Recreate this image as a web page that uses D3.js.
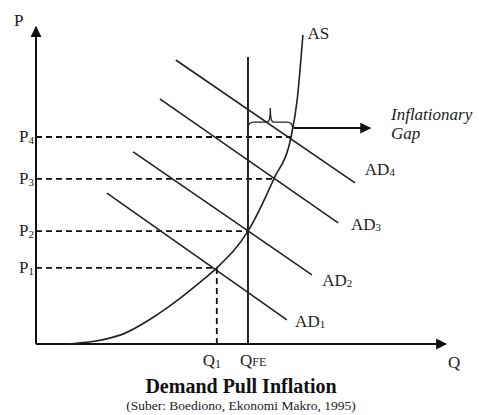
<!DOCTYPE html>
<html>
<head>
<meta charset="utf-8">
<script src="https://cdn.jsdelivr.net/npm/d3@7"></script>
<style>
  body { margin: 0; background: #fff; }
</style>
</head>
<body>
<div id="chart"></div>
<script>
const width = 479;
const height = 415;

// data in chart units (0..100 on both axes)
const priceLabels = ["P1", "P2", "P3", "P4"];
const priceLevels = [24.0, 35.6, 52.1, 65.3];
const priceQty = [44.1, 51.7, 58.0, 62.2];   // where each price meets AS

const qtyLabels = ["Q1", "QFE"];
const qtyValues = [44.1, 51.7];

const asCurve = [[7.8, 0], [20.5, 2.8], [30.2, 9.8], [40.7, 20.2], [44.1, 24.0],
  [51.7, 35.6], [58.0, 52.1], [62.2, 65.3], [63.7, 77.0], [65.1, 97.5]];

const adNames = ["AD1", "AD2", "AD3", "AD4"];
const adStart = [[17.3, 47.6], [23.7, 60.6], [30.2, 77.3], [34.1, 89.6]];
const adEnd = [[61.2, 7.6], [67.3, 21.8], [73.7, 38.2], [77.8, 50.8]];
const adLabelPos = [[63.2, 5.4], [69.8, 18.3], [76.8, 36.0], [80.2, 53.3]];

const qfeTop = 90.5;
const gapFrom = 51.7, gapTo = 62.6, gapLevel = 68.1, gapArrowEnd = 81.5;

const serif = "'Liberation Serif', 'Times New Roman', Times, serif";

const svg = d3.select("#chart").append("svg")
  .attr("width", width)
  .attr("height", height)
  .attr("font-family", serif)
  .style("font-family", serif);

const x = d3.scaleLinear().domain([0, 100]).range([36, 446]);
const y = d3.scaleLinear().domain([0, 100]).range([344, 27]);

const defs = svg.append("defs");
defs.append("marker")
  .attr("id", "arrow")
  .attr("viewBox", "0 0 10 10")
  .attr("refX", 9).attr("refY", 5)
  .attr("markerWidth", 5.5).attr("markerHeight", 5.5)
  .attr("markerUnits", "strokeWidth")
  .attr("orient", "auto")
  .append("path")
  .attr("d", "M0,0 L10,5 L0,10 Z")
  .attr("fill", "#111");

// axes
svg.append("line")
  .attr("x1", x(0)).attr("y1", y(0))
  .attr("x2", x(0)).attr("y2", y(100))
  .attr("stroke", "#111").attr("stroke-width", 2)
  .attr("marker-end", "url(#arrow)");

svg.append("line")
  .attr("x1", x(0)).attr("y1", y(0))
  .attr("x2", x(100)).attr("y2", y(0))
  .attr("stroke", "#111").attr("stroke-width", 2)
  .attr("marker-end", "url(#arrow)");

svg.append("text").attr("x", x(0) - 22).attr("y", y(100) - 1)
  .attr("fill", "#222").style("font-size", "17px").text("P");
svg.append("text").attr("x", x(100) + 2).attr("y", y(0) + 24)
  .attr("fill", "#222").style("font-size", "17px").text("Q");

// dashed price lines
priceLevels.forEach((p, i) => {
  svg.append("line")
    .attr("x1", x(0)).attr("y1", y(p))
    .attr("x2", x(priceQty[i])).attr("y2", y(p))
    .attr("stroke", "#111").attr("stroke-width", 1.8)
    .attr("stroke-dasharray", "6,4");

  const t = svg.append("text")
    .attr("x", x(0) - 2).attr("y", y(p) + 5)
    .attr("text-anchor", "end")
    .attr("fill", "#222")
    .style("font-size", "17px");
  t.append("tspan").text(priceLabels[i][0]);
  t.append("tspan").style("font-size", "11px").attr("dy", 2).text(priceLabels[i].slice(1));
});

// Q1 dashed vertical
svg.append("line")
  .attr("x1", x(qtyValues[0])).attr("y1", y(priceLevels[0]))
  .attr("x2", x(qtyValues[0])).attr("y2", y(0))
  .attr("stroke", "#111").attr("stroke-width", 1.8)
  .attr("stroke-dasharray", "6,4");

// QFE full employment line
svg.append("line")
  .attr("x1", x(qtyValues[1])).attr("y1", y(qfeTop))
  .attr("x2", x(qtyValues[1])).attr("y2", y(0))
  .attr("stroke", "#222").attr("stroke-width", 2);

qtyLabels.forEach((q, i) => {
  const t = svg.append("text")
    .attr("x", x(qtyValues[i]) - (i === 0 ? 14 : 8)).attr("y", y(0) + 22)
    .attr("fill", "#222")
    .style("font-size", "17px");
  t.append("tspan").text(q[0]);
  t.append("tspan").style("font-size", "12px").attr("dy", i === 0 ? 2 : 0).text(q.slice(1));
});

// AD lines
adNames.forEach((name, i) => {
  svg.append("line")
    .attr("x1", x(adStart[i][0])).attr("y1", y(adStart[i][1]))
    .attr("x2", x(adEnd[i][0])).attr("y2", y(adEnd[i][1]))
    .attr("stroke", "#222").attr("stroke-width", 1.6);

  const t = svg.append("text")
    .attr("x", x(adLabelPos[i][0])).attr("y", y(adLabelPos[i][1]))
    .attr("fill", "#222")
    .style("font-size", "17px");
  t.append("tspan").text("AD");
  t.append("tspan").style("font-size", "11px").attr("dy", 1).text(name.slice(2));
});

// AS curve
svg.append("path")
  .datum(asCurve)
  .attr("d", d3.line().x(d => x(d[0])).y(d => y(d[1])).curve(d3.curveMonotoneX))
  .attr("fill", "none")
  .attr("stroke", "#222").attr("stroke-width", 1.6);

svg.append("text")
  .attr("x", x(66.2)).attr("y", y(96.2))
  .attr("fill", "#222")
  .style("font-size", "17px").text("AS");

// inflationary gap brace
const bx0 = x(gapFrom), bx1 = x(gapTo), by = y(gapLevel);
const bmid = (bx0 + bx1) / 2;
svg.append("path")
  .attr("d", `M${bx0},${by} Q${bx0},${by - 6} ${bx0 + 6},${by - 6} L${bmid - 3},${by - 6}
    Q${bmid},${by - 6} ${bmid},${by - 20} Q${bmid},${by - 6} ${bmid + 3},${by - 6}
    L${bx1 - 6},${by - 6} Q${bx1},${by - 6} ${bx1},${by}`)
  .attr("fill", "none")
  .attr("stroke", "#222").attr("stroke-width", 1.4);

svg.append("line")
  .attr("x1", bx1 + 1).attr("y1", by)
  .attr("x2", x(gapArrowEnd)).attr("y2", by)
  .attr("stroke", "#111").attr("stroke-width", 2)
  .attr("marker-end", "url(#arrow)");

svg.append("text").attr("x", 391).attr("y", by - 8)
  .attr("fill", "#222")
  .style("font-size", "17px").style("font-style", "italic").text("Inflationary");
svg.append("text").attr("x", 391).attr("y", by + 11)
  .attr("fill", "#222")
  .style("font-size", "17px").style("font-style", "italic").text("Gap");

// title
svg.append("text")
  .attr("x", 241).attr("y", 393)
  .attr("text-anchor", "middle")
  .attr("fill", "#111")
  .style("font-size", "20px").style("font-weight", "bold")
  .text("Demand Pull Inflation");

svg.append("text")
  .attr("x", 241).attr("y", 410)
  .attr("text-anchor", "middle")
  .attr("fill", "#222")
  .style("font-size", "13.5px")
  .text("(Suber: Boediono, Ekonomi Makro, 1995)");
</script>
</body>
</html>
